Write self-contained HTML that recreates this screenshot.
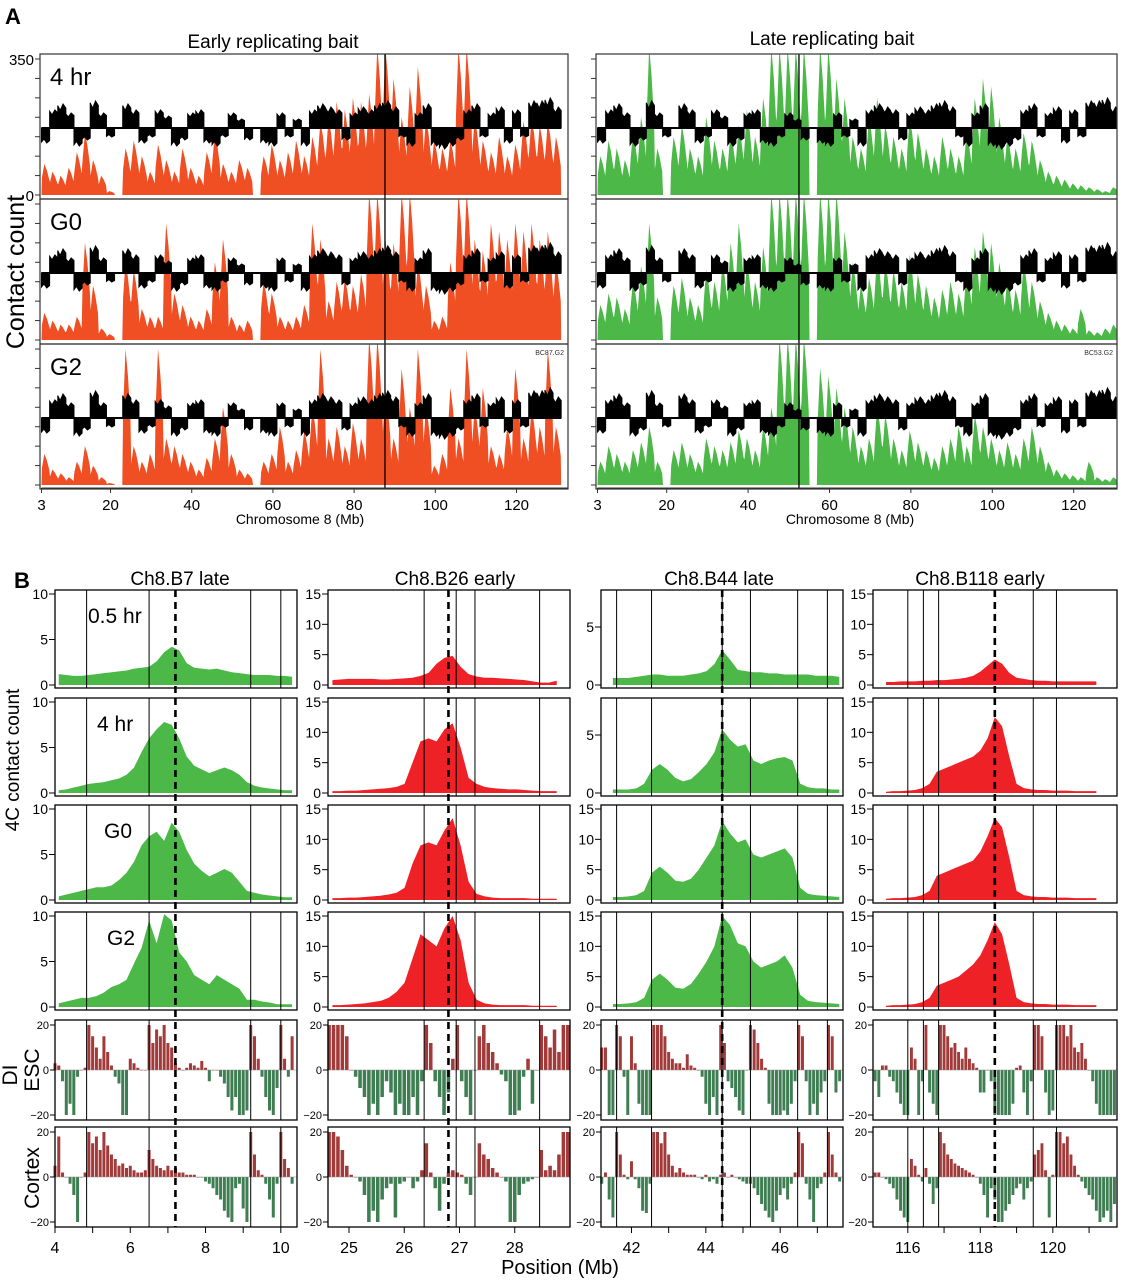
<!DOCTYPE html>
<html><head><meta charset="utf-8">
<style>
html,body{margin:0;padding:0;background:#fff;}
svg{display:block;font-family:"Liberation Sans",Arial,sans-serif;}
</style></head>
<body>
<svg id="fig" width="1127" height="1280" viewBox="0 0 1127 1280" xmlns="http://www.w3.org/2000/svg">
<text x="5" y="24" font-size="22" font-weight="bold">A</text>
<text x="14" y="588" font-size="22" font-weight="bold">B</text>
<text x="273" y="48" font-size="19" text-anchor="middle">Early replicating bait</text>
<text x="832" y="45" font-size="19" text-anchor="middle">Late replicating bait</text>
<text transform="translate(24,272) rotate(-90)" font-size="25" text-anchor="middle">Contact count</text>
<text x="300" y="524" font-size="14" text-anchor="middle">Chromosome 8 (Mb)</text>
<text x="850" y="524" font-size="14" text-anchor="middle">Chromosome 8 (Mb)</text>
<text x="560" y="1274" font-size="20" text-anchor="middle">Position (Mb)</text>
<text transform="translate(19,760) rotate(-90)" font-size="19" text-anchor="middle">4C contact count</text>
<text transform="translate(17,1075) rotate(-90)" font-size="21" text-anchor="middle">DI</text>
<text transform="translate(39,1070) rotate(-90)" font-size="21" text-anchor="middle">ESC</text>
<text transform="translate(39,1178) rotate(-90)" font-size="21" text-anchor="middle">Cortex</text>
<g id="plots"></g>
</svg>
<script>
// ---------- Panel A data (2-Mb bins starting at 4 Mb) ----------
const aStart = 4, aStep = 2;
const earlyH4 = [80,60,50,70,110,160,90,50,10,0,120,140,100,60,130,90,60,120,70,50,110,160,80,60,90,70,0,100,130,90,110,140,100,150,190,200,240,220,250,240,260,380,380,300,200,280,330,200,140,120,140,380,380,200,140,110,150,100,130,190,200,180,190,150];
const earlyG0 = [70,50,40,40,60,250,140,30,15,0,200,180,80,60,60,300,120,90,60,50,80,200,260,60,40,50,0,150,120,60,50,60,90,300,260,100,150,160,140,170,380,380,260,250,380,380,200,140,50,60,200,380,380,260,230,300,280,260,300,280,300,260,280,200];
const earlyG2 = [80,40,30,20,60,100,50,20,5,0,350,100,60,80,350,120,100,80,60,40,70,120,200,80,40,30,0,60,80,150,60,90,140,200,350,120,150,100,160,120,380,380,250,120,300,200,350,200,50,80,250,120,350,200,250,100,80,150,300,120,200,150,350,150];
const lateH4 = [100,140,120,90,160,200,380,120,0,150,180,120,100,200,140,120,160,180,220,150,250,380,380,380,380,380,0,380,380,300,250,150,120,200,250,180,150,120,200,160,120,100,150,120,100,160,250,300,280,200,150,120,160,140,90,60,50,40,30,25,20,15,10,20];
const lateG0 = [90,120,110,80,150,190,300,110,0,140,160,110,90,180,150,200,250,300,200,150,240,380,380,380,380,380,0,380,380,380,280,200,140,160,220,200,180,150,220,170,140,110,130,150,120,180,240,280,250,200,160,130,200,150,100,70,50,40,30,80,25,20,30,40];
const lateG2 = [60,100,80,60,90,110,150,60,0,90,110,80,60,120,100,90,110,140,120,90,150,200,380,380,380,380,0,300,280,250,200,150,100,120,200,180,120,90,140,110,90,70,100,120,150,100,180,150,120,90,110,80,120,150,100,60,40,30,25,20,60,20,15,20];
const diTrack = [-0.5,0.6,0.8,0.5,-0.6,-0.4,0.9,0.5,-0.3,0,0.8,0.6,-0.5,-0.3,0.6,0.4,-0.6,-0.4,0.5,0.6,-0.5,-0.6,-0.3,0.5,0.3,-0.4,0,-0.5,-0.6,0.5,-0.3,0.3,-0.6,0.6,0.8,0.7,0.6,-0.4,0.5,0.7,0.6,0.8,0.9,0.7,-0.3,-0.6,0.5,0.8,-0.6,-0.7,-0.6,-0.4,0.6,0.8,-0.3,0.5,0.7,-0.5,0.6,-0.3,0.9,0.9,1.0,0.7];
const aTicks = [3,20,40,60,80,100,120];
const aRowLabels = ["4 hr","G0","G2"];
const earlyBaitMb = 87.6, lateBaitMb = 52.5;

// ---------- Panel B data ----------
const bTitles = ["Ch8.B7 late","Ch8.B26 early","Ch8.B44 late","Ch8.B118 early"];
const bRowLabels = ["0.5 hr","4 hr","G0","G2"];
const c1Prof05 = [1.2,1.1,1.0,1.0,1.1,1.2,1.3,1.4,1.5,1.6,1.8,1.9,2.0,2.6,3.6,4.2,3.8,2.4,1.9,1.8,1.7,1.8,1.6,1.4,1.3,1.2,1.1,1.1,1.1,1.0,1.0,0.9];
const c1Prof4 = [0.3,0.4,0.6,0.8,1.0,1.1,1.2,1.4,1.6,2.0,2.8,4.5,6.0,7.0,7.8,7.5,6.0,4.0,3.0,2.6,2.2,2.5,2.8,2.5,2.0,1.2,0.8,0.6,0.5,0.4,0.3,0.3];
const c1ProfG0 = [0.4,0.6,0.8,1.0,1.2,1.4,1.4,1.6,2.2,3.0,4.2,6.0,7.0,7.5,6.5,8.5,7.5,5.5,4.0,3.2,2.6,3.0,3.4,3.0,2.0,1.0,0.8,0.6,0.5,0.4,0.3,0.3];
const c1ProfG2 = [0.4,0.6,0.8,1.0,1.0,1.2,1.6,2.2,2.5,3.0,4.8,6.5,9.5,7.0,10.2,9.5,6.0,5.0,3.5,3.0,2.5,3.5,3.0,2.5,2.0,0.8,0.8,0.6,0.5,0.3,0.3,0.3];
const c2Prof05 = [0.8,0.9,1.0,1.0,1.0,1.0,0.9,0.9,1.0,1.1,1.2,1.5,2.0,3.5,4.5,4.8,3.0,1.8,1.4,1.2,1.2,1.1,1.0,0.9,0.8,0.6,0.4,0.4,0.7];
const c2Prof4 = [0.3,0.3,0.4,0.4,0.5,0.6,0.7,0.8,1.0,1.5,5.0,8.5,9.0,8.5,10.5,11.5,7.5,2.5,1.5,1.0,0.8,0.7,0.6,0.6,0.5,0.4,0.3,0.3,0.3];
const c2ProfG0 = [0.3,0.3,0.4,0.4,0.5,0.6,0.7,0.9,1.2,2.0,6.0,9.0,9.5,9.0,11.5,13.5,9.0,3.0,1.0,0.6,0.4,0.3,0.3,0.3,0.3,0.2,0.2,0.2,0.2];
const c2ProfG2 = [0.3,0.3,0.4,0.5,0.6,0.8,1.0,1.5,2.5,4.0,8.0,12.0,11.0,10.0,13.0,15.0,11.0,4.0,1.2,0.6,0.4,0.3,0.3,0.3,0.3,0.2,0.2,0.2,0.2];
const c3Prof05 = [0.6,0.6,0.6,0.7,0.8,0.9,0.9,0.8,0.8,0.8,0.9,1.0,1.2,1.8,3.0,2.2,1.3,1.2,1.1,1.1,1.0,1.0,0.9,0.9,0.9,0.9,0.8,0.8,0.8,0.7];
const c3Prof4 = [0.3,0.3,0.3,0.4,0.8,2.0,2.5,2.0,1.3,1.0,1.2,1.8,2.5,3.5,5.5,4.6,4.0,4.2,2.8,2.5,2.8,3.0,3.1,2.8,0.8,0.5,0.4,0.4,0.3,0.3];
const c3ProfG0 = [0.5,0.5,0.6,0.8,1.5,4.5,5.5,4.5,3.2,3.0,3.5,5.0,7.0,9.0,13.0,11.0,9.5,10.0,7.5,7.0,7.5,8.0,8.5,7.0,2.0,1.0,0.8,0.7,0.6,0.5];
const c3ProfG2 = [0.5,0.5,0.6,0.8,1.5,4.5,5.5,4.5,3.2,3.0,3.8,5.5,7.5,10.0,15.0,13.5,10.5,10.0,7.5,6.5,7.0,7.5,8.5,6.5,2.0,1.0,0.8,0.7,0.6,0.5];
const c4Prof05 = [0.5,0.5,0.6,0.6,0.6,0.7,0.7,0.8,0.8,0.9,1.0,1.2,1.5,2.2,3.2,4.2,3.5,2.0,1.2,1.0,0.8,0.7,0.7,0.6,0.6,0.6,0.6,0.6,0.6,0.6];
const c4Prof4 = [0.2,0.3,0.3,0.4,0.5,0.8,1.5,3.5,4.0,4.5,5.0,5.5,6.0,7.0,9.0,12.5,11.0,6.0,1.5,0.8,0.6,0.5,0.5,0.4,0.4,0.4,0.3,0.3,0.3,0.3];
const c4ProfG0 = [0.2,0.3,0.3,0.4,0.5,0.8,1.5,4.0,4.5,5.0,5.5,6.0,6.5,8.0,10.5,13.5,12.0,7.0,1.5,0.8,0.6,0.5,0.5,0.4,0.4,0.4,0.3,0.3,0.3,0.3];
const c4ProfG2 = [0.2,0.3,0.3,0.4,0.5,0.8,1.5,3.5,4.0,4.5,5.0,6.0,7.0,8.5,11.0,14.0,12.0,7.0,1.5,0.8,0.6,0.5,0.5,0.4,0.4,0.4,0.3,0.3,0.3,0.3];

const c1Esc = [3,2,-5,-20,-15,-20,-3,0,1,20,15,10,5,15,8,2,-3,-6,-20,-20,5,3,1,0,0,20,12,18,15,20,12,10,3,1,0,1,3,2,1,4,1,-5,0,0,-3,-6,-12,-18,-12,-20,-20,-18,20,15,5,-3,-12,-18,-20,-8,20,5,-3,15];
const c1Ctx = [5,18,2,0,-3,-8,-20,0,2,20,15,18,12,20,14,10,8,5,6,4,5,3,2,2,3,12,8,5,4,3,5,3,4,2,2,1,1,1,0,0,-2,-3,-5,-8,-10,-15,-18,-20,-5,-3,-14,-20,20,10,3,1,-3,-10,-18,-3,20,8,4,-3];
const c2Esc = [20,20,20,20,15,0,-3,-8,-12,-20,-15,-20,-12,-5,-10,-20,-15,-20,-20,-12,-20,-5,20,12,-5,-12,-20,-10,5,20,-5,-12,-20,0,15,20,12,8,3,-2,-5,-20,-20,-18,-3,5,-15,0,20,15,10,18,8,20,20];
const c2Ctx = [20,20,18,12,5,1,0,-2,-8,-20,-15,-20,-10,-5,-3,-18,-3,-2,0,-5,-2,3,15,2,-5,-15,-3,2,3,2,1,-3,-8,0,15,10,8,4,2,0,-2,-20,-20,-8,-3,-2,-1,0,12,3,5,3,10,20,20];
const c3Esc = [10,10,-20,-20,20,15,-3,-20,15,3,-15,-20,-20,-20,20,20,20,15,8,5,3,3,1,7,2,1,0,-3,-15,-20,-12,-20,20,12,-5,-8,-12,-18,-20,0,20,18,12,5,1,-15,-20,-20,-20,-18,-20,-15,-5,20,15,-5,-20,-15,-20,-10,-5,20,15,-10,-5];
const c3Ctx = [-3,2,-10,-18,20,10,1,-1,7,-1,-5,-15,-16,-3,20,20,15,20,10,5,2,4,2,1,1,1,0,-1,1,-2,-1,-3,1,2,0,1,0,-1,-2,-3,-3,-5,-8,-12,-15,-18,-20,-15,-8,-5,-10,-3,2,20,15,-3,-10,-20,-5,-3,2,20,10,2,-2];
const c4Esc = [-5,-12,2,2,-3,-5,-10,-15,-20,-20,10,5,-20,-5,20,-10,-15,-20,20,20,15,10,12,8,5,10,5,3,1,-10,-10,0,-5,-20,-20,-20,-20,-20,-15,1,2,-10,-20,-5,20,20,15,-10,-20,-18,20,20,20,15,20,10,8,12,5,0,-5,-15,-20,-20,-20,-20,-20];
const c4Ctx = [2,2,0,-1,-3,-5,-10,-15,-18,-20,8,5,1,-2,4,-3,-12,-5,20,15,10,8,6,5,4,3,2,1,0,-3,-8,-18,-5,-10,-20,-20,-15,-12,-8,-5,-3,-10,-5,-2,10,12,15,3,-18,1,20,20,15,18,10,5,1,-2,-5,-8,-10,-15,-20,-18,-15,-20,-12];

const cols = [
 {x0:55,x1:297,d0:4,d1:10.43,ticks:[4,6,8,10],minor:[5,7,9],lines:[4.84,6.5,9.2,10.0],bait:7.2,col:"#4cb848",
  prof:[c1Prof05,c1Prof4,c1ProfG0,c1ProfG2],pStart:4.1,pStep:0.2,yt:[[0,5,10],[0,5,10],[0,5,10],[0,5,10]],
  esc:c1Esc,ctx:c1Ctx,dStart:4.0,dStep:0.1},
 {x0:328,x1:570,d0:24.62,d1:29.0,ticks:[25,26,27,28],minor:[],lines:[26.36,26.94,27.28,28.45],bait:26.8,col:"#ee2127",
  prof:[c2Prof05,c2Prof4,c2ProfG0,c2ProfG2],pStart:24.7,pStep:0.145,yt:[[0,5,10,15],[0,5,10,15],[0,5,10,15],[0,5,10,15]],
  esc:c2Esc,ctx:c2Ctx,dStart:24.64,dStep:0.08},
 {x0:601,x1:843,d0:41.18,d1:47.69,ticks:[42,44,46],minor:[43,45,47],lines:[41.6,42.54,44.44,45.2,46.47,47.27],bait:44.44,col:"#4cb848",
  prof:[c3Prof05,c3Prof4,c3ProfG0,c3ProfG2],pStart:41.5,pStep:0.21,yt:[[0,5],[0,5],[0,5,10,15],[0,5,10,15]],
  esc:c3Esc,ctx:c3Ctx,dStart:41.2,dStep:0.1},
 {x0:873,x1:1117,d0:115.04,d1:121.77,ticks:[116,118,120],minor:[117,119,121],lines:[116.0,116.43,116.85,119.46,120.1],bait:118.4,col:"#ee2127",
  prof:[c4Prof05,c4Prof4,c4ProfG0,c4ProfG2],pStart:115.4,pStep:0.2,yt:[[0,5,10,15],[0,5,10,15],[0,5,10,15],[0,5,10,15]],
  esc:c4Esc,ctx:c4Ctx,dStart:115.1,dStep:0.1}
];
const titleX = [180,455,719,980];

const NS = "http://www.w3.org/2000/svg";
const root = document.getElementById('plots');
function mk(tag, attrs, parent){
  const e = document.createElementNS(NS, tag);
  for (const k in attrs) e.setAttribute(k, attrs[k]);
  (parent||root).appendChild(e);
  return e;
}

// ---------- Panel A ----------
const aPanels = [
 {x0:40,x1:568,c:"#f04e23",series:[earlyH4,earlyG0,earlyG2],bait:earlyBaitMb,left:true,tag:"BC87.G2"},
 {x0:596,x1:1117,c:"#4cb848",series:[lateH4,lateG0,lateG2],bait:lateBaitMb,left:false,tag:"BC53.G2"}
];
aPanels.forEach((p,pi)=>{
  const xs = mb => p.x0 + 1.5 + (mb-3)*(p.left?4.06:4.07);
  const rowTop = [54,199,344], rowH = 145;
  rowTop.forEach((top,ri)=>{
    const bottom = top+rowH, zero = bottom-4, ytop = top+5;
    const ys = v => zero - Math.min(v,390)*(zero-ytop)/350;
    const cid = 'clipA'+pi+ri;
    const cp = mk('clipPath',{id:cid});
    mk('rect',{x:p.x0,y:top,width:p.x1-p.x0,height:rowH},cp);
    const g = mk('g',{'clip-path':'url(#'+cid+')'});
    
    
    const data = p.series[ri];
    let d = 'M'+xs(aStart-1)+','+zero;
    data.forEach((v,i)=>{ const m=aStart+i*aStep; d+=' L'+xs(m-0.9)+','+ys(v*0.55)+' L'+xs(m-0.3)+','+ys(v)+' L'+xs(m+0.3)+','+ys(v*0.8)+' L'+xs(m+0.9)+','+ys(v*0.5); });
    d += ' L'+xs(aStart+(data.length-1)*aStep+1)+','+zero+' Z';
    const area = mk('path',{d:d,fill:p.c},g);
    
    
    const base = top+74;
    let dd = 'M'+xs(aStart-1)+','+base;
    diTrack.forEach((v,i)=>{ const m=aStart+i*aStep; dd+=' L'+xs(m-1)+','+(base-v*28)+' L'+xs(m-0.4)+','+(base-v*22)+' L'+xs(m+0.3)+','+(base-v*30)+' L'+xs(m+1)+','+(base-v*25); });
    dd += ' L'+xs(aStart+(diTrack.length-1)*aStep+1)+','+base+' Z';
    const di = mk('path',{d:dd,fill:'#000',stroke:'#000','stroke-width':1},g);
    
    
    mk('line',{x1:xs(aStart-1),x2:xs(131),y1:base,y2:base,stroke:'#000','stroke-width':2},g);
    mk('line',{x1:xs(p.bait),x2:xs(p.bait),y1:top,y2:bottom,stroke:'#000','stroke-width':1.3},g);
    const box = mk('rect',{x:p.x0,y:top,width:p.x1-p.x0,height:rowH,fill:'none',stroke:'#333','stroke-width':1.2});
    
    
    for(let t=0;t<=350;t+=50){ const y=ys(t); mk('line',{x1:p.x0-5,x2:p.x0,y1:y,y2:y,stroke:'#333','stroke-width':1}); }
    if(p.left){
      const lab = mk('text',{x:50,y:top+31,'font-size':24});
      lab.textContent = aRowLabels[ri];
      
      
      if(ri===0){
        const t1=mk('text',{x:34,y:ys(350)+6,'font-size':15,'text-anchor':'end'}); t1.textContent='350';
        const t0=mk('text',{x:34,y:zero+6,'font-size':15,'text-anchor':'end'}); t0.textContent='0';
      }
    }
    if(ri===2){
      const tg=mk('text',{x:p.x1-4,y:top+11,'font-size':7,'text-anchor':'end',fill:'#333'}); tg.textContent=p.tag;
    }
  });
  const axY = 488;
  mk('line',{x1:xs(3),x2:p.x1,y1:axY,y2:axY,stroke:'#333','stroke-width':1});
  aTicks.forEach(t=>{
    mk('line',{x1:xs(t),x2:xs(t),y1:axY,y2:axY+5,stroke:'#333'});
    const tl = mk('text',{x:xs(t),y:axY+22,'font-size':15,'text-anchor':'middle'});
    tl.textContent = t;
    
    
  });
});

// ---------- Panel B ----------
const profTop = [590,698,805,912], profH = 98;
const diTop = [1020,1127], diH = 100;
cols.forEach((c,ci)=>{
  const xs = mb => c.x0 + (mb-c.d0)*(c.x1-c.x0)/(c.d1-c.d0);
  const t = mk('text',{x:titleX[ci],y:585,'font-size':19,'text-anchor':'middle'});
  t.textContent = bTitles[ci];
  
  
  const allTop = profTop[0], allBot = diTop[1]+diH;
  profTop.forEach((top,ri)=>{
    const zero = top+profH-3, ytopPx = top+4;
    const tickTop = c.yt[ri][c.yt[ri].length-1];
    const scale = (ci===2 && ri<2) ? 11.6 : (zero-ytopPx)/tickTop;
    const ys = v => Math.max(top+1, zero - v*scale);
    const arr = c.prof[ri];
    let d = 'M'+xs(c.pStart)+','+zero;
    arr.forEach((v,i)=>{ d+=' L'+xs(c.pStart+i*c.pStep)+','+ys(v); });
    d += ' L'+xs(c.pStart+(arr.length-1)*c.pStep)+','+zero+' Z';
    const a = mk('path',{d:d,fill:c.col});
    
    
    c.yt[ri].forEach(v=>{
      const y = zero - v*scale;
      mk('line',{x1:c.x0-6,x2:c.x0,y1:y,y2:y,stroke:'#000','stroke-width':1});
      const l = mk('text',{x:c.x0-7,y:y+5,'font-size':14,'text-anchor':'end'}); l.textContent=v;
    });
    if(ci===0){
      const rl = mk('text',{x:[88,97,104,107][ri],y:top+33,'font-size':21});
      rl.textContent = bRowLabels[ri];
      
      
    }
  });
  [c.esc,c.ctx].forEach((arr,di)=>{
    const top = diTop[di], zero = top+50;
    const ys = v => zero - Math.max(-22,Math.min(22,v))*2.25;
    const bw = (xs(c.d0+c.dStep)-xs(c.d0))*0.8;
    arr.forEach((v,i)=>{
      const x = xs(c.dStart+i*c.dStep);
      const y = ys(v);
      const b = mk('rect',{x:x-bw/2,y:Math.min(y,zero),width:bw,height:Math.max(0.5,Math.abs(zero-y)),fill:v>=0?'#a33a3a':'#3f7d52'});
      
      
    });
    mk('line',{x1:c.x0,x2:c.x1,y1:zero,y2:zero,stroke:'#888','stroke-width':0.6});
    [20,0,-20].forEach(v=>{
      const y = zero - v*2.25;
      mk('line',{x1:c.x0-5,x2:c.x0,y1:y,y2:y,stroke:'#000'});
      const l = mk('text',{x:c.x0-6,y:y+4,'font-size':11,'text-anchor':'end'}); l.textContent = v===-20?'\u221220':v;
    });
  });
  [...profTop.map(t=>[t,t+profH]),...diTop.map(t=>[t,t+diH])].forEach(([a,b])=>{
    c.lines.forEach(m=>{ mk('line',{x1:xs(m),x2:xs(m),y1:a,y2:b,stroke:'#000','stroke-width':1}); });
    mk('rect',{x:c.x0,y:a,width:c.x1-c.x0,height:b-a,fill:'none',stroke:'#000','stroke-width':1.3});
  });
  const dl = mk('line',{x1:xs(c.bait),x2:xs(c.bait),y1:allTop,y2:allBot,stroke:'#000','stroke-width':2.6,'stroke-dasharray':'7,5'});
  
  
  c.ticks.forEach(v=>{
    mk('line',{x1:xs(v),x2:xs(v),y1:allBot,y2:allBot+6,stroke:'#000'});
    const l = mk('text',{x:xs(v),y:allBot+26,'font-size':16,'text-anchor':'middle'});
    l.textContent = v;
    
    
  });
  c.minor.forEach(v=>{ if(v<c.d1) mk('line',{x1:xs(v),x2:xs(v),y1:allBot,y2:allBot+6,stroke:'#000'}); });
});
</script>
</body></html>
